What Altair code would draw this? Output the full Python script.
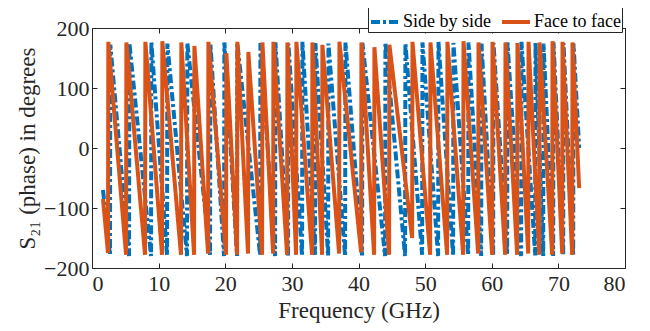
import altair as alt
import pandas as pd

# ---- data ----
# Side by side (blue, dash-dot): start point, phase-wrap frequencies, peak/trough values, end point
sbs_start = (1.65, -70)
sbs_wrap_ghz = [2.70, 5.56, 8.86, 11.26, 14.26, 17.72, 19.82, 21.77, 25.23, 27.48,
                29.43, 31.53, 33.48, 35.44, 37.99, 40.54, 43.99, 46.99, 49.55, 51.95,
                54.20, 56.46, 58.41, 60.21, 62.31, 64.41, 66.52, 67.72, 69.22, 70.72, 72.22]
sbs_trough = [-178, -180, -180, -179, -180, -178, -180, -180, -178, -180,
              -179, -180, -178, -180, -180, -179, -180, -180, -178, -180,
              -180, -179, -180, -180, -178, -180, -179, -180, -180, -178, -180]
sbs_peak = [172, 175, 176, 174, 175, 173, 176, 174, 175, 176,
            174, 177, 175, 174, 176, 175, 176, 174, 176, 177,
            175, 176, 174, 175, 176, 177, 175, 174, 176, 175, 174]
sbs_end = (73.12, 0)

# Face to face (orange, solid)
ftf_start = (1.65, -85)
ftf_wrap_ghz = [2.40, 5.11, 7.96, 10.51, 13.36, 15.32, 17.42, 20.12, 21.77, 23.42,
                25.53, 27.18, 29.28, 30.63, 33.03, 34.53, 37.09, 40.39, 42.34, 44.59,
                48.05, 50.75, 53.30, 55.71, 57.96, 60.06, 62.01, 63.81, 65.47, 67.12,
                69.07, 70.57, 72.07]
ftf_trough = [-175, -178, -178, -178, -178, -178, -176, -178, -178, -176,
              -178, -176, -178, -178, -178, -178, -176, -174, -178, -178,
              -150, -178, -178, -178, -176, -178, -178, -178, -176, -178,
              -178, -176, -178]
ftf_peak = [177, 176, 177, 178, 176, 170, 177, 158, 177, 160,
            176, 177, 176, 177, 176, 172, 177, 176, 168, 172,
            177, 176, 177, 178, 176, 177, 176, 175, 177, 176,
            178, 177, 176]
ftf_end = (73.12, -67)

x_ticks = [0, 10, 20, 30, 40, 50, 60, 70, 80]
y_ticks = [-200, -100, 0, 100, 200]
series_names = ["Side by side", "Face to face"]


def build(name, start, wraps, troughs, peaks, end):
    rows = [{"freq": start[0], "phase": start[1], "series": name}]
    for f, lo, hi in zip(wraps, troughs, peaks):
        rows.append({"freq": f, "phase": lo, "series": name})
        rows.append({"freq": f + 0.05, "phase": hi, "series": name})
    rows.append({"freq": end[0], "phase": end[1], "series": name})
    return rows


df = pd.DataFrame(
    build(series_names[0], sbs_start, sbs_wrap_ghz, sbs_trough, sbs_peak, sbs_end)
    + build(series_names[1], ftf_start, ftf_wrap_ghz, ftf_trough, ftf_peak, ftf_end)
)

FONT = "Times New Roman, Liberation Serif, serif"
INK = "#262626"

color_scale = alt.Scale(domain=series_names, range=["#0072BD", "#D95319"])
dash_scale = alt.Scale(domain=series_names, range=[[9, 3, 3, 3], [1, 0]])

xscale = alt.Scale(domain=[0, 80], nice=False)
yscale = alt.Scale(domain=[-200, 200], nice=False)

bottom_axis = alt.Axis(values=x_ticks, orient="bottom", offset=-5, tickSize=5,
                       labelPadding=5, title="Frequency (GHz)", titlePadding=5,
                       domain=False, grid=False)
left_axis = alt.Axis(values=y_ticks, orient="left", offset=-5, tickSize=5,
                     labelPadding=3, title="S₂₁ (phase) in degrees", titlePadding=4,
                     domain=False, grid=False)
top_axis = alt.Axis(values=x_ticks, orient="top", offset=-5, tickSize=5,
                    labels=False, title=None, domain=False, grid=False)
right_axis = alt.Axis(values=y_ticks, orient="right", offset=-5, tickSize=5,
                      labels=False, title=None, domain=False, grid=False)

legend = alt.Legend(title=None, orient="none", legendX=276, legendY=-23,
                    direction="horizontal")

base = alt.Chart(df)

blue = base.transform_filter(alt.datum.series == series_names[0]).mark_line(
    strokeWidth=4, clip=True
).encode(
    x=alt.X("freq:Q", scale=xscale, axis=bottom_axis),
    y=alt.Y("phase:Q", scale=yscale, axis=left_axis),
    color=alt.Color("series:N", scale=color_scale, legend=legend),
    strokeDash=alt.StrokeDash("series:N", scale=dash_scale, legend=legend),
)

orange = base.transform_filter(alt.datum.series == series_names[1]).mark_line(
    strokeWidth=4, clip=True
).encode(
    x=alt.X("freq:Q", scale=xscale, axis=top_axis),
    y=alt.Y("phase:Q", scale=yscale, axis=right_axis),
    color=alt.Color("series:N", scale=color_scale, legend=legend),
    strokeDash=alt.StrokeDash("series:N", scale=dash_scale, legend=legend),
)

chart = alt.layer(blue, orange).resolve_axis(x="independent", y="independent").properties(
    width=533,
    height=240,
    autosize=alt.AutoSizeParams(type="none"),
    padding={"left": 84, "top": 20, "right": 17, "bottom": 55},
    background="white",
).configure_view(
    stroke=INK, strokeWidth=1
).configure_axis(
    labelFont=FONT, titleFont=FONT, labelFontSize=22, titleFontSize=23,
    titleFontWeight="normal", labelColor=INK, titleColor=INK, tickColor=INK,
    tickWidth=1,
).configure_legend(
    labelFont=FONT, labelFontSize=18, labelColor="black",
    symbolType="stroke", symbolStrokeWidth=4, symbolSize=784,
    strokeColor=INK, fillColor="white", padding=1, labelOffset=2,
    columnPadding=3, labelLimit=300,
)

chart.save("out.html", embed_options={"renderer": "svg", "actions": False})
